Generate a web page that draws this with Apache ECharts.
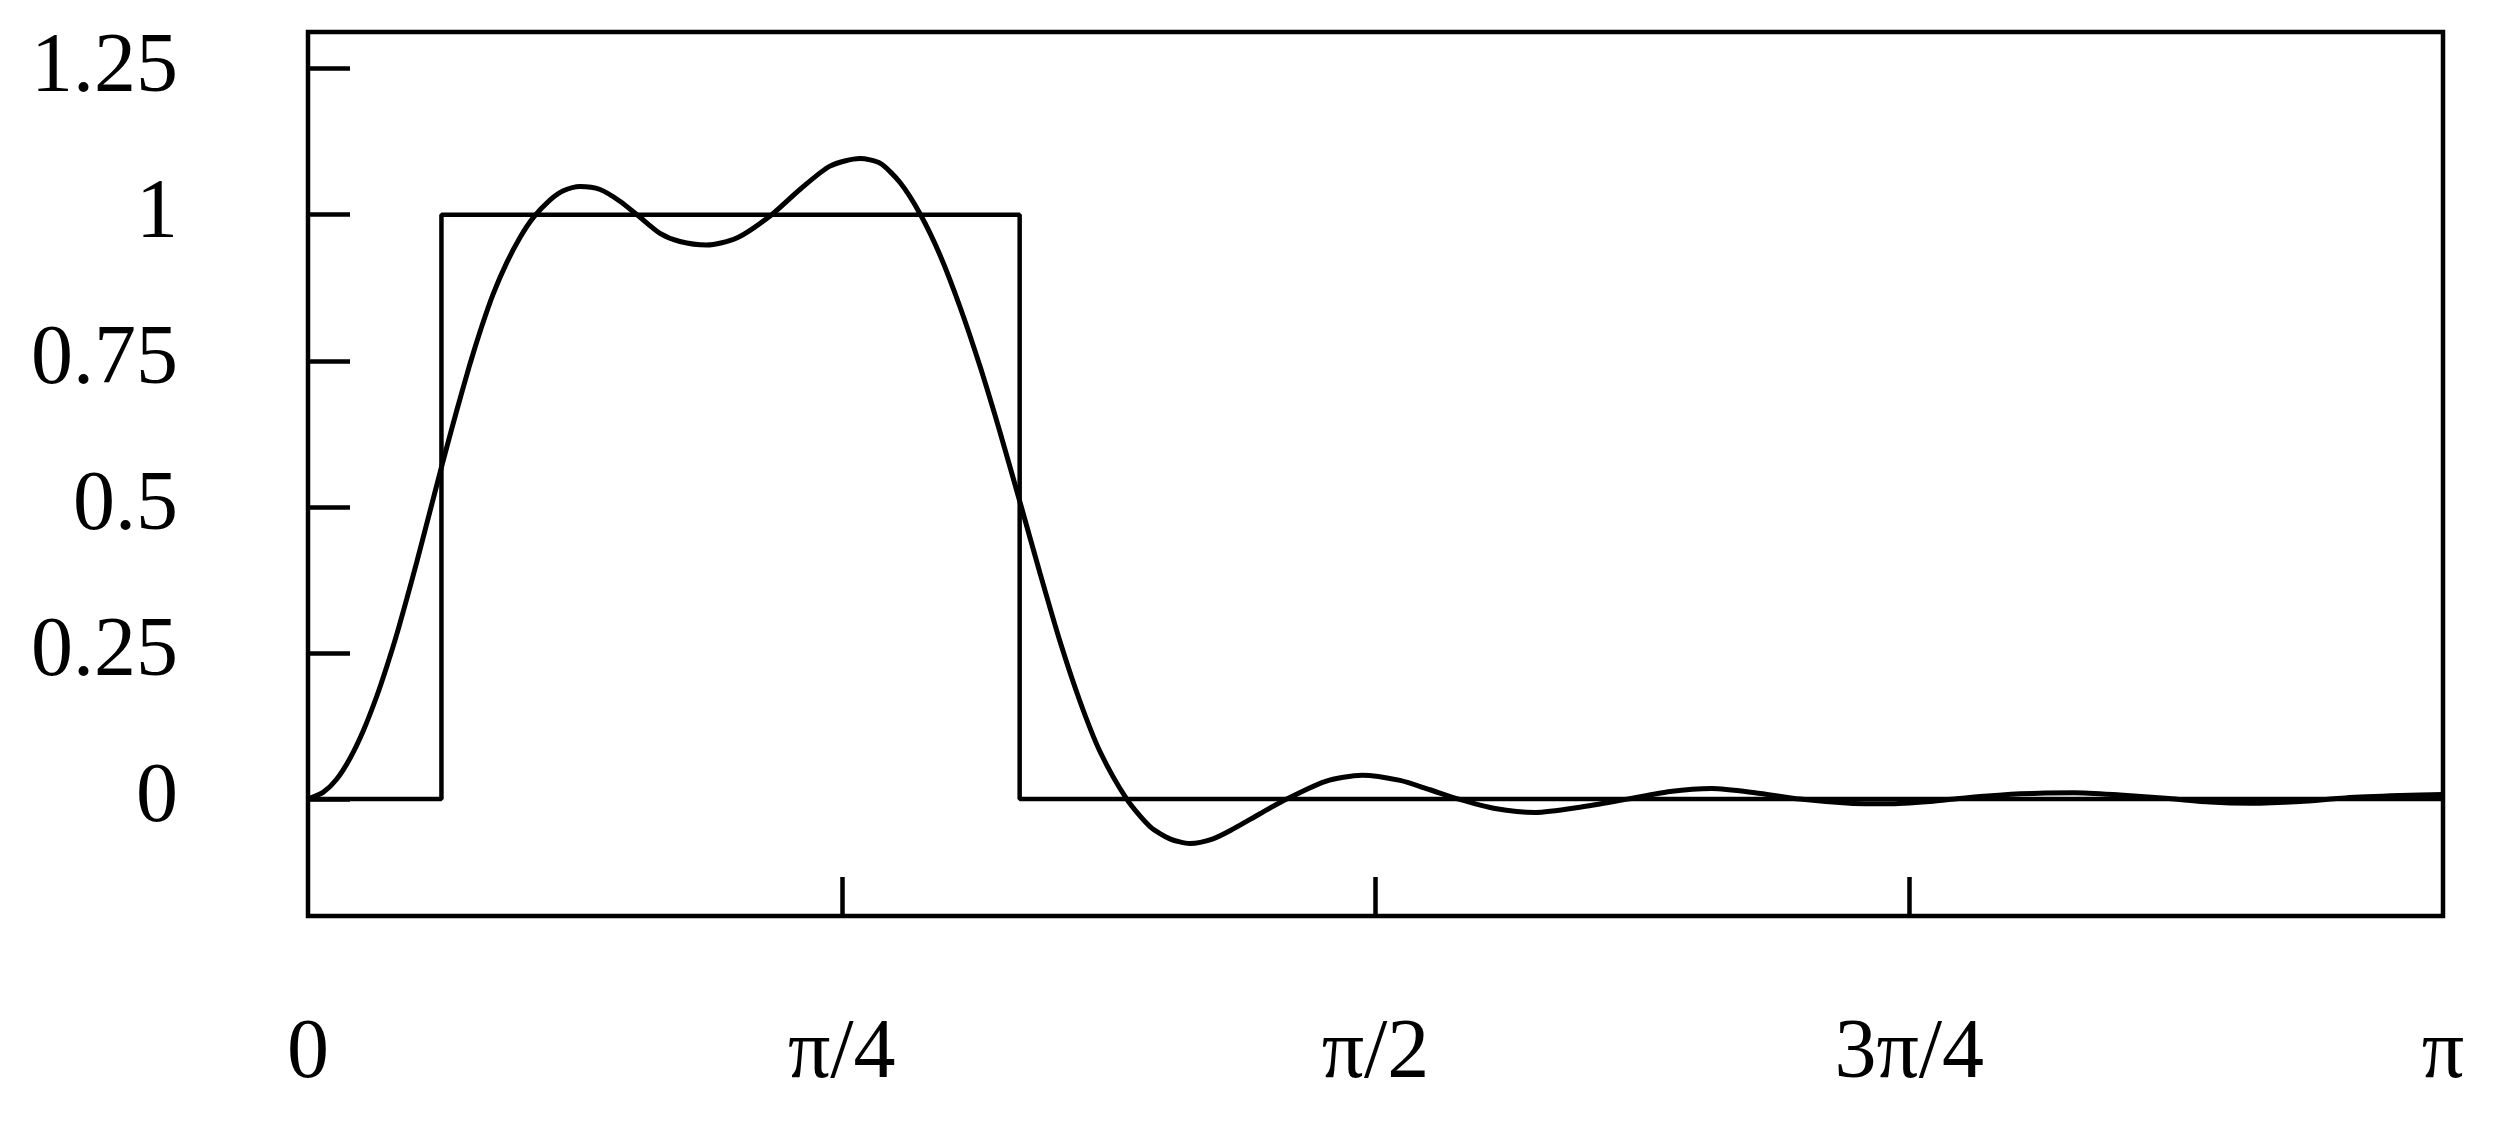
<!DOCTYPE html>
<html>
<head>
<meta charset="utf-8">
<script src="https://cdn.jsdelivr.net/npm/echarts@6/dist/echarts.min.js"></script>
<style>
  html, body { margin: 0; padding: 0; background: #fff; }
  #chart { width: 2496px; height: 1122px; }
</style>
</head>
<body>
<div id="chart"></div>
<script>
// frequency in units of pi
const freq = [
  0, 0.0072, 0.0134, 0.0197, 0.0259, 0.0322, 0.0369, 0.0415, 0.0462, 0.0509,
  0.0556, 0.0631, 0.0696, 0.0759, 0.0814, 0.0868, 0.0931, 0.0993, 0.1055, 0.1133,
  0.1196, 0.1274, 0.1368, 0.1461, 0.1547, 0.1649, 0.1742, 0.1867, 0.2008, 0.2172,
  0.2304, 0.2445, 0.2585, 0.2679, 0.2773, 0.2866, 0.2960, 0.3054, 0.3148, 0.3241,
  0.3338, 0.3429, 0.3522, 0.3616, 0.3710, 0.3835, 0.3944, 0.4037, 0.4131, 0.4239,
  0.4334, 0.4459, 0.4584, 0.4763, 0.4937, 0.5115, 0.5255, 0.5390, 0.5560, 0.5749,
  0.5958, 0.6180, 0.6380, 0.6575, 0.6777, 0.6988, 0.7222, 0.7400, 0.7597, 0.7761,
  0.8019, 0.8272, 0.8487, 0.8717, 0.8909, 0.9096, 0.9330, 0.9541, 0.9799, 1.0
];
const response = [
  0, 0.012, 0.034, 0.070, 0.117, 0.176, 0.227, 0.281, 0.342, 0.405,
  0.471, 0.576, 0.664, 0.745, 0.809, 0.865, 0.918, 0.961, 0.995, 1.025,
  1.041, 1.048, 1.043, 1.023, 0.998, 0.968, 0.954, 0.948, 0.960, 1.000,
  1.043, 1.083, 1.096, 1.088, 1.055, 1.002, 0.931, 0.842, 0.740, 0.628,
  0.504, 0.386, 0.270, 0.167, 0.081, 0.000, -0.047, -0.068, -0.076, -0.068,
  -0.051, -0.025, 0.000, 0.030, 0.041, 0.032, 0.016, 0.000, -0.016, -0.023,
  -0.014, 0.000, 0.013, 0.018, 0.011, 0.000, -0.007, -0.008, -0.004, 0.002,
  0.009, 0.011, 0.007, 0.001, -0.005, -0.007, -0.004, 0.002, 0.006, 0.008
];

// ideal band (pi/16 .. pi/3)
const idealFreq = [0, 1 / 16, 1 / 16, 1 / 3, 1 / 3, 1];
const idealGain = [0, 0, 1, 1, 0, 0];

const yTicks = [0, 0.25, 0.5, 0.75, 1, 1.25];
const xLabelValues = [0, 0.25, 0.5, 0.75, 1];
const xLabelText = ["0", "π/4", "π/2", "3π/4", "π"];
const xTicks = [0.25, 0.5, 0.75];

const font = "Liberation Serif";
const lw = 4.5;

const chart = echarts.init(document.getElementById("chart"));

const option = {
  animation: false,
  backgroundColor: "#fff",
  grid: {
    left: 308,
    right: 53,
    top: 32,
    bottom: 206,
    show: true,
    borderColor: "#000",
    borderWidth: lw
  },
  xAxis: {
    type: "value",
    min: 0,
    max: 1,
    splitLine: { show: false },
    axisLine: { show: false, onZero: false },
    axisTick: {
      show: true,
      inside: true,
      length: 39,
      customValues: xTicks,
      lineStyle: { color: "#000", width: lw }
    },
    axisLabel: {
      customValues: xLabelValues,
      formatter: v => xLabelText[xLabelValues.indexOf(v)],
      margin: 139,
      verticalAlign: "middle",
      fontFamily: font,
      fontSize: 84,
      color: "#000"
    }
  },
  yAxis: {
    type: "value",
    min: -0.2,
    max: 1.3125,
    splitLine: { show: false },
    axisLine: { show: false },
    axisTick: {
      show: true,
      inside: true,
      length: 42,
      customValues: yTicks,
      lineStyle: { color: "#000", width: lw }
    },
    axisLabel: {
      customValues: yTicks,
      formatter: v => String(v),
      margin: 130,
      padding: [0, 0, 22, 0],
      fontFamily: font,
      fontSize: 84,
      color: "#000"
    }
  },
  series: [
    {
      type: "line",
      data: idealFreq.map((f, i) => [f, idealGain[i]]),
      symbol: "none",
      lineStyle: { color: "#000", width: lw }
    },
    {
      type: "line",
      data: freq.map((f, i) => [f, response[i]]),
      symbol: "none",
      smooth: 0.25,
      lineStyle: { color: "#000", width: 5 }
    }
  ]
};

chart.setOption(option);
</script>
</body>
</html>
